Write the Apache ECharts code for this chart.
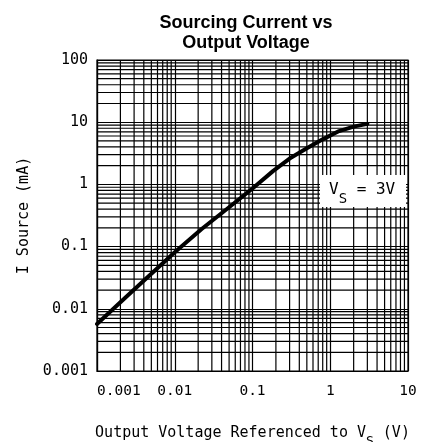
<!DOCTYPE html>
<html>
<head>
<meta charset="utf-8">
<script src="https://cdn.jsdelivr.net/npm/echarts@6/dist/echarts.min.js"></script>
<style>html,body{margin:0;padding:0;background:#fff}#c{width:422px;height:442px}</style>
</head>
<body>
<div id="c"></div>
<script>
// Data
var voltage = [0.001, 0.0025, 0.01, 0.022, 0.05, 0.1, 0.185, 0.3, 0.5, 0.8, 1.3, 2.0, 3.0];
var current = [0.0057, 0.0165, 0.081, 0.19, 0.43, 0.86, 1.65, 2.6, 3.8, 5.3, 7.2, 8.5, 9.4];
var xDecades = [0.001, 0.01, 0.1, 1];
var yDecades = [0.001, 0.01, 0.1, 1, 10];
var minorSteps = [2, 3, 4, 5, 6, 7, 8, 9];

var mono = '"DejaVu Sans Mono", monospace';
// grid line positions: [x, y, orientation]  (0 = vertical line at x, 1 = horizontal line at y)
var gridLines = [];
xDecades.forEach(function (d) { minorSteps.forEach(function (m) { gridLines.push([+(d * m).toPrecision(3), 1, 0]); }); });
yDecades.forEach(function (d) { minorSteps.forEach(function (m) { gridLines.push([1, +(d * m).toPrecision(3), 1]); }); });

var chart = echarts.init(document.getElementById('c'));
chart.setOption({
  animation: false,
  backgroundColor: '#fff',
  title: {
    text: 'Sourcing Current vs\nOutput Voltage',
    left: 241, textAlign: 'center', top: 8,
    textStyle: { fontFamily: '"Liberation Sans", Arial, sans-serif', fontWeight: 'bold', fontSize: 18, lineHeight: 20, color: '#000' }
  },
  grid: { left: 97, right: 14, top: 60, bottom: 71, outerBoundsMode: 'none', containLabel: false, show: true, borderColor: '#000', borderWidth: 1.2 },
  xAxis: {
    type: 'log', logBase: 10, min: 0.001, max: 10,
    axisLine: { show: true, lineStyle: { color: '#000', width: 1.2 } },
    axisTick: { show: false },
    splitLine: { show: true, lineStyle: { color: '#000', width: 1.2 } },
    axisLabel: {
      margin: 13, fontFamily: mono, fontSize: 14.5, color: '#000', alignMinLabel: 'left',
      formatter: function (v) { return String(+v.toPrecision(3)); }
    },
    name: 'Output Voltage Referenced to V{sub|S} (V)',
    nameLocation: 'middle', nameGap: 55,
    nameTextStyle: { fontFamily: mono, fontSize: 15, color: '#000', rich: { sub: { fontFamily: mono, fontSize: 13, verticalAlign: 'bottom', padding: [0, 0, -7, 0] } } }
  },
  yAxis: {
    type: 'log', logBase: 10, min: 0.001, max: 100,
    axisLine: { show: true, lineStyle: { color: '#000', width: 1.2 } },
    axisTick: { show: false },
    splitLine: { show: true, lineStyle: { color: '#000', width: 1.2 } },
    axisLabel: {
      margin: 9, fontFamily: mono, fontSize: 15, color: '#000',
      formatter: function (v) { return String(+v.toPrecision(3)); }
    },
    name: 'I Source (mA)', nameLocation: 'middle', nameGap: 64,
    nameTextStyle: { fontFamily: mono, fontSize: 15, color: '#000' }
  },
  series: [{
    type: 'custom',
    data: gridLines,
    silent: true,
    z: 1,
    renderItem: function (params, api) {
      var cs = params.coordSys;
      var p = api.coord([api.value(0), api.value(1)]);
      var shape = api.value(2) === 0
        ? { x1: p[0], y1: cs.y, x2: p[0], y2: cs.y + cs.height }
        : { x1: cs.x, y1: p[1], x2: cs.x + cs.width, y2: p[1] };
      return { type: 'line', shape: shape, style: { stroke: '#000', lineWidth: 1.2 } };
    }
  }, {
    type: 'line',
    data: voltage.map(function (v, i) { return [v, current[i]]; }),
    showSymbol: false, smooth: false,
    lineStyle: { color: '#000', width: 4, join: 'round', cap: 'round' },
    z: 5
  }],
  graphic: [
    { type: 'rect', z: 100, shape: { x: 320, y: 175, width: 86, height: 32 }, style: { fill: '#fff' } },
    { type: 'text', z: 101, x: 329, y: 182, style: { text: 'V{sub|S} = 3V', fontFamily: mono, fontSize: 16, fill: '#000',
      rich: { sub: { fontFamily: mono, fontSize: 14, padding: [0, 0, -8, 0], verticalAlign: 'bottom' } } } }
  ]
});
</script>
</body>
</html>
